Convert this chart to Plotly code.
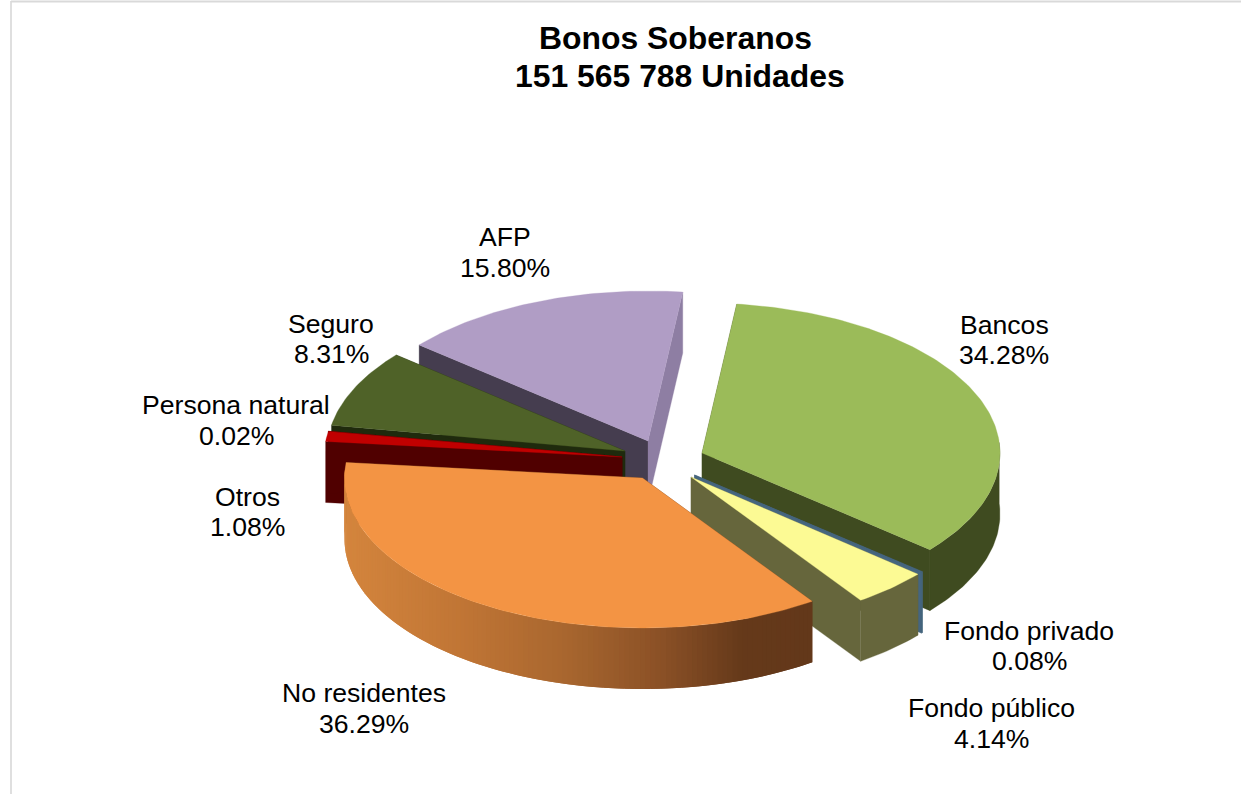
import math
import plotly.graph_objects as go

# ---- data ----
labels = ["Bancos", "Fondo privado", "Fondo público", "No residentes",
          "Otros", "Persona natural", "Seguro", "AFP"]
shares = [34.28, 0.08, 4.14, 36.29, 1.08, 0.02, 8.31, 15.80]
title_lines = ["Bonos Soberanos", "151 565 788 Unidades"]

# ---- style / layout ----
W, H = 1241, 794
START_DEG = 6.7
RX, RY, DEPTH = 298, 150, 61
apex_x = [702, 694.5, 691, 642.5, 622, 622, 625, 648]
apex_y = [453, 475, 477, 478, 457, 457, 451, 441]
top_colors = ["#9bbb59", "#46667f", "#fcfa94", "#f39444", "#c00000", "#c00000", "#4f6228", "#b09dc5"]
start_face = ["#3f4b20", "#46667f", "#66663c", "#63381a", "#500000", "#500000", "#1f2a0d", "#453d4f"]
end_face = ["#3f4b20", "#46667f", "#66663c", "#63381a", "#500000", "#500000", "#1f2a0d", "#8e7ea3"]
wall_stops = [(344, (212, 133, 61)), (460, (192, 117, 53)), (560, (169, 103, 47)),
              (660, (138, 80, 38)), (740, (101, 57, 26)), (811, (99, 56, 26))]
draw_order = [7, 6, 5, 4, 0, 1, 2, 3]
label_x = [1004, 1029, 991.5, 363.5, 247.5, 236, 331, 505]
name_y = [324.5, 630.5, 707.5, 692.5, 496.5, 404.5, 323.5, 236.5]
pct_y = [355, 661, 738.5, 723.5, 527, 435.5, 354, 267.5]
TEXT_FONT = "Liberation Sans"
LABEL_SIZE = 26.6


def point(i, deg):
    a = math.radians(deg)
    return apex_x[i] + RX * math.sin(a), apex_y[i] - RY * math.cos(a)


def poly(xs, ys, color, lw=0.3):
    return go.Scatter(x=xs, y=ys, mode="lines", fill="toself", fillcolor=color,
                      line=dict(color=color, width=lw), hoverinfo="skip", showlegend=False)


def wall_color(x):
    for (x0, c0), (x1, c1) in zip(wall_stops, wall_stops[1:]):
        if x <= x1:
            t = max(0.0, (x - x0) / (x1 - x0))
            return "rgb(%d,%d,%d)" % tuple(round(p + (q - p) * t) for p, q in zip(c0, c1))
    return "rgb(%d,%d,%d)" % wall_stops[-1][1]


# angular extent of each slice, from the shares
bounds = []
acc = START_DEG
for s in shares:
    bounds.append((acc, acc + s * 3.6))
    acc += s * 3.6

fig = go.Figure()
for i in draw_order:
    a0, a1 = bounds[i]
    cx, cy = apex_x[i], apex_y[i]
    p0 = point(i, a0)
    p1 = point(i, a1)
    steps = max(2, int((a1 - a0) / 1.0))
    angs = [a0 + (a1 - a0) * k / steps for k in range(steps + 1)]
    arc = [point(i, a) for a in angs]
    # radial faces
    fig.add_trace(poly([cx, p0[0], p0[0], cx, cx], [cy, p0[1], p0[1] + DEPTH, cy + DEPTH, cy], start_face[i]))
    fig.add_trace(poly([cx, p1[0], p1[0], cx, cx], [cy, p1[1], p1[1] + DEPTH, cy + DEPTH, cy], end_face[i]))
    # outer wall: only the front half of the rim can be seen
    front = [point(i, a) for a in angs if 85 <= a <= 275]
    if i == 3:
        # strips overlap the next one, painted so that no seams remain
        for k in range(len(front) - 1, 0, -1):
            sub = front[max(0, k - 2):k + 1]
            xs = [p[0] for p in sub]
            ys = [p[1] for p in sub]
            fig.add_trace(poly(xs + xs[::-1] + xs[:1], ys + [y + DEPTH for y in ys[::-1]] + ys[:1],
                               wall_color(front[k][0]), lw=0))
    elif len(front) > 1:
        xs = [p[0] for p in front]
        ys = [p[1] for p in front]
        fig.add_trace(poly(xs + xs[::-1] + xs[:1], ys + [y + DEPTH for y in ys[::-1]] + ys[:1], start_face[i]))
    # top
    fig.add_trace(poly([cx] + [p[0] for p in arc] + [cx], [cy] + [p[1] for p in arc] + [cy], top_colors[i]))

annotations = []
for i, lab in enumerate(labels):
    for txt, yy in ((lab, name_y[i]), (f"{shares[i]:.2f}%", pct_y[i])):
        annotations.append(dict(x=label_x[i], y=yy, xref="x", yref="y", showarrow=False, text=txt,
                                font=dict(family=TEXT_FONT, size=LABEL_SIZE, color="#000000")))
annotations.append(dict(x=675, y=38, xref="x", yref="y", showarrow=False, text=f"<b>{title_lines[0]}</b>",
                        font=dict(family=TEXT_FONT, size=31.9, color="#000000")))
annotations.append(dict(x=680, y=76, xref="x", yref="y", showarrow=False, text=f"<b>{title_lines[1]}</b>",
                        font=dict(family=TEXT_FONT, size=31.9, color="#000000")))

fig.update_layout(
    width=W, height=H, margin=dict(l=0, r=0, t=0, b=0), autosize=False,
    paper_bgcolor="#ffffff", plot_bgcolor="#ffffff", showlegend=False,
    xaxis=dict(range=[0, W], visible=False, fixedrange=True),
    yaxis=dict(range=[H, 0], visible=False, fixedrange=True),
    annotations=annotations,
    shapes=[
        dict(type="line", x0=11, x1=11, y0=1, y1=H, line=dict(color="#d4d4d4", width=1.5)),
        dict(type="line", x0=11, x1=W, y0=1.5, y1=1.5, line=dict(color="#d9d9d9", width=2)),
    ],
)
fig.write_html("out.html", config={"displayModeBar": False},
               post_script="document.body.style.margin='0';document.body.style.overflow='hidden';")
